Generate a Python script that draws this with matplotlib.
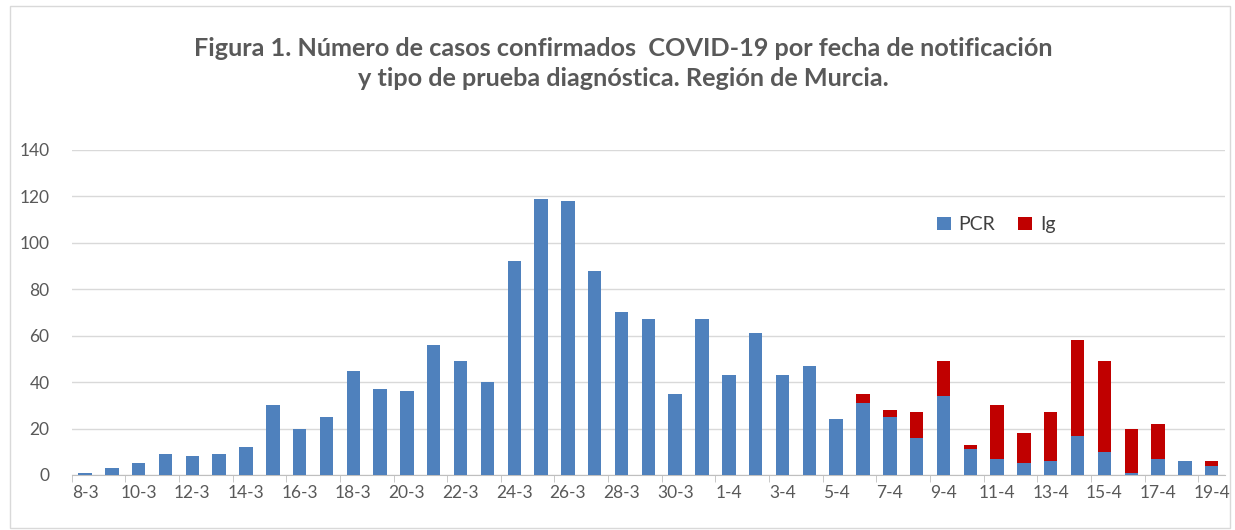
import matplotlib
matplotlib.use("Agg")
import matplotlib.pyplot as plt
from matplotlib.patches import Rectangle
import numpy as np

dates = ["8-3", "9-3", "10-3", "11-3", "12-3", "13-3", "14-3", "15-3", "16-3", "17-3",
         "18-3", "19-3", "20-3", "21-3", "22-3", "23-3", "24-3", "25-3", "26-3", "27-3",
         "28-3", "29-3", "30-3", "31-3", "1-4", "2-4", "3-4", "4-4", "5-4", "6-4",
         "7-4", "8-4", "9-4", "10-4", "11-4", "12-4", "13-4", "14-4", "15-4", "16-4",
         "17-4", "18-4", "19-4"]
pcr = [1, 3, 5, 9, 8, 9, 12, 30, 20, 25,
       45, 37, 36, 56, 49, 40, 92, 119, 118, 88,
       70, 67, 35, 67, 43, 61, 43, 47, 24, 31,
       25, 16, 34, 11, 7, 5, 6, 17, 10, 1,
       7, 6, 4]
ig = [0, 0, 0, 0, 0, 0, 0, 0, 0, 0,
      0, 0, 0, 0, 0, 0, 0, 0, 0, 0,
      0, 0, 0, 0, 0, 0, 0, 0, 0, 4,
      3, 11, 15, 2, 23, 13, 21, 41, 39, 19,
      15, 0, 2]

BLUE = "#4F81BD"
RED = "#C00000"
GREY = "#595959"
FONT = ["Lato", "DejaVu Sans"]

fig = plt.figure(figsize=(12.35, 5.3), dpi=100)
ax = fig.add_axes([0.058, 0.1038, 0.934, 0.6132])

x = np.arange(len(dates))
ax.bar(x, pcr, width=0.5, color=BLUE, label="PCR", zorder=3)
ax.bar(x, ig, width=0.5, bottom=pcr, color=RED, label="Ig", zorder=3)

ax.set_xlim(-0.5, len(dates) - 0.5)
ax.set_ylim(0, 140)
ax.set_yticks(range(0, 141, 20))
ax.grid(axis="y", color="#D9D9D9", linewidth=1, zorder=0)
for s in ["top", "right", "left"]:
    ax.spines[s].set_visible(False)
ax.spines["bottom"].set_color("#BFBFBF")

ax.set_xticks(x[::2])
ax.set_xticklabels(dates[::2])
ax.set_xticks(np.arange(-0.5, len(dates), 2), minor=True)
ax.tick_params(axis="x", which="major", length=0, pad=7, labelsize=12.5, labelcolor=GREY)
ax.tick_params(axis="x", which="minor", length=5, color="#BFBFBF")
ax.tick_params(axis="y", length=0, pad=16, labelsize=12.5, labelcolor=GREY)
for lbl in ax.get_xticklabels() + ax.get_yticklabels():
    lbl.set_family(FONT)

leg = ax.legend(loc="upper left", bbox_to_anchor=(0.735, 0.85), ncol=2, frameon=False,
                handlelength=0.7, handleheight=0.7, handletextpad=0.4, columnspacing=1.2,
                prop={"family": FONT, "size": 14})
for t in leg.get_texts():
    t.set_color("#404040")

fig.text(0.505, 0.88, "Figura 1. Número de casos confirmados  COVID-19 por fecha de notificación\n"
         "y tipo de prueba diagnóstica. Región de Murcia.",
         ha="center", va="center", fontsize=18.2, fontweight="bold", color=GREY,
         family=FONT, linespacing=1.35)

fig.patches.append(Rectangle((0.008, 0.004), 0.988, 0.984, transform=fig.transFigure,
                             fill=False, edgecolor="#D9D9D9", linewidth=1))

fig.savefig("out.png", dpi=100)
